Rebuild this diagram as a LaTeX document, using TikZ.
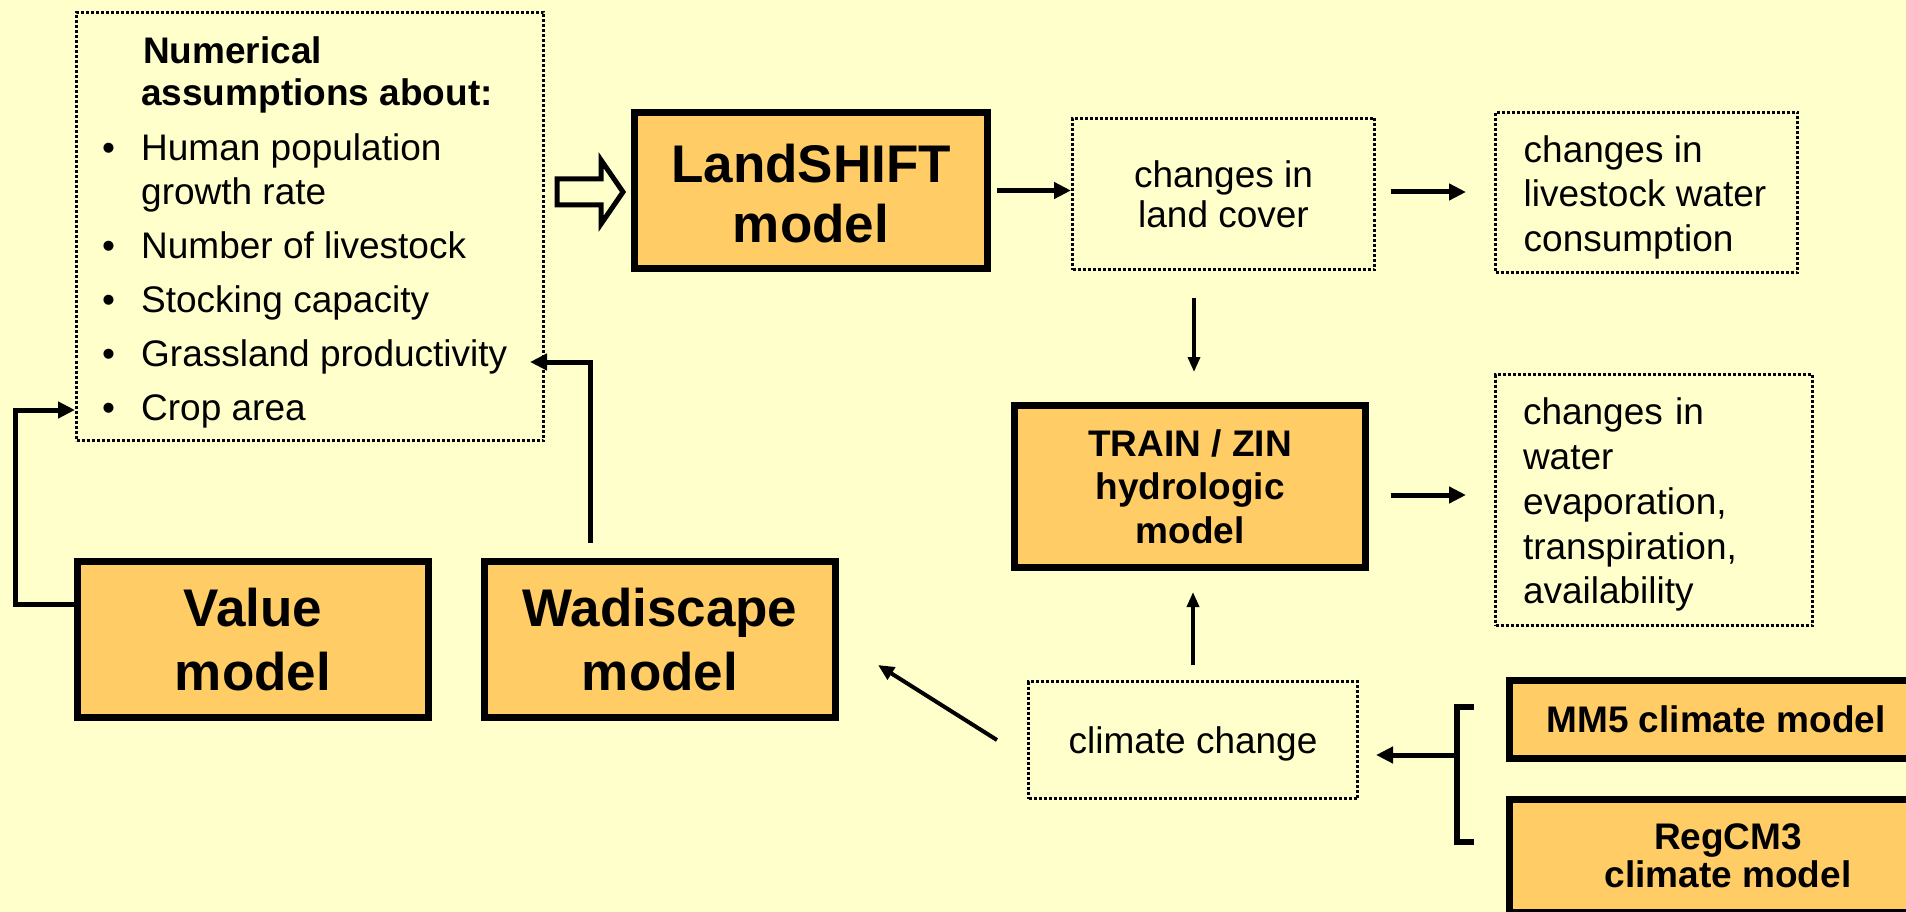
\documentclass[tikz,border=0pt]{standalone}
\usepackage{fontspec}
\setmainfont{Liberation Sans}
\usetikzlibrary{arrows.meta}
\definecolor{bgc}{HTML}{FFFFCC}
\definecolor{boxc}{HTML}{FFCC66}
\newcommand\bul{\makebox[39pt][l]{\textbullet}}
\tikzset{
  model/.style={draw, line width=7pt, fill=boxc, inner sep=0pt, align=center},
  dotbox/.style={draw, line width=3pt, dash pattern=on 3pt off 2pt, inner sep=0pt},
  txt/.style={inner sep=0pt},
  arr/.style={line width=5pt, -{Triangle[length=17pt,width=16pt]}},
  thinarr/.style={line width=3.5pt, -{Triangle[length=15pt,width=12pt]}}
}
\begin{document}
\begin{tikzpicture}[x=1pt,y=-1pt]
\useasboundingbox (0,0) rectangle (1906,912);
\clip (0,0) rectangle (1906,912);
\fill[bgc] (0,0) rectangle (1906,912);

% assumptions box
\node[dotbox, minimum width=467pt, minimum height=428pt] (num) at (310,226.5) {};
\node[txt, anchor=north west, align=left, font=\fontsize{37}{44}\selectfont] (numtext) at (102,36.5) {%
\hspace*{41pt}\textbf{Numerical}\\[-2pt]
\hspace*{39pt}\textbf{assumptions about:}\\[11pt]
\bul Human population\\
\hspace*{39pt}growth rate\\[10pt]
\bul Number of livestock\\[10pt]
\bul Stocking capacity\\[9.5pt]
\bul Grassland productivity\\[10pt]
\bul Crop area};

% models
\node[model, minimum width=353pt, minimum height=156pt] (land) at (811,190.5) {};
\node[txt, align=center, font=\fontsize{53}{60}\selectfont\bfseries] (landtxt) at ([yshift=-3.5pt]land.center) {LandSHIFT\\model};
\node[model, font=\fontsize{37}{43.5}\selectfont\bfseries, minimum width=351pt, minimum height=162pt] (train) at (1190,486.5) {TRAIN / ZIN\\hydrologic\\model};
\node[model, font=\fontsize{53}{64}\selectfont\bfseries, minimum width=351pt, minimum height=156pt] (val) at (253,639.5) {Value\\model};
\node[model, font=\fontsize{53}{64}\selectfont\bfseries, minimum width=351pt, minimum height=156pt] (wadi) at (660,639.5) {Wadiscape\\model};
\node[model, font=\fontsize{37}{44}\selectfont\bfseries, minimum width=413pt, minimum height=78pt] (mm5) at (1716,719.5) {MM5 climate model};
\node[model, font=\fontsize{37}{38}\selectfont\bfseries, minimum width=437pt, minimum height=113pt] (reg) at (1728,856) {RegCM3\\climate model};

% dotted outcome boxes
\node[dotbox, align=center, font=\fontsize{37}{40}\selectfont, minimum width=302pt, minimum height=151pt] (lc) at (1223.5,194) {changes in\\land cover};
\node[dotbox, minimum width=302pt, minimum height=160pt] (ls) at (1646.5,192.5) {};
\node[txt, align=left, font=\fontsize{37}{44.5}\selectfont] (lstxt) at ([xshift=-1.5pt,yshift=-4.5pt]ls.center) {changes in\\livestock water\\consumption};
\node[dotbox, minimum width=317pt, minimum height=251pt] (water) at (1654,500) {};
\node[txt, align=left, text width=262pt, font=\fontsize{37}{44.75}\selectfont] (watertxt) at ([yshift=-4.8pt]water.center) {changes in\\water\\evaporation,\\transpiration,\\availability};
\node[dotbox, text depth=0pt, font=\fontsize{37}{44}\selectfont, minimum width=329pt, minimum height=117pt] (cc) at (1193,740) {climate change};

% hollow block arrow
\draw[line width=5pt, fill=bgc] (557,179) -- (601,179) -- (601,160) -- (623,192) -- (601,224) -- (601,205) -- (557,205) -- cycle;

% connectors
\draw[arr, shorten <=6pt] (land.east) -- (land.east -| lc.west);
\draw[arr, shorten <=15pt, shorten >=28pt] (lc.east |- 0,192) -- (ls.west |- 0,192);
\draw[thinarr, shorten <=27pt, shorten >=30pt] ([xshift=4pt]train.north |- lc.south) -- ([xshift=4pt]train.north);
\draw[arr, shorten <=22pt, shorten >=28pt] (train.east |- 0,495) -- (water.west |- 0,495);
\draw[thinarr, shorten <=15pt, shorten >=21pt] (cc.north) -- (cc.north |- train.south);
\coordinate (ccout) at (997,740);
\coordinate (wtip) at (878,665);
\draw[line width=4pt, -{Triangle[length=16pt,width=14pt]}] (ccout) -- (wtip);

% bracket from climate models
\draw[line width=6pt] (1474,707) -- (1457,707) -- (1457,842) -- (1474,842);
\coordinate (brk) at (1457,755);
\draw[arr, shorten >=17pt] (brk) -- (cc.east |- brk);

% feedback to assumptions
\draw[arr] (val.west |- 0,604) -- (15,604) -- (15,410) -- (num.west |- 0,410);
\draw[arr, shorten <=15pt] (wadi.north -| 590,0) -- (590,362) -- ([xshift=-15pt]num.east |- 0,362);
\end{tikzpicture}
\end{document}
